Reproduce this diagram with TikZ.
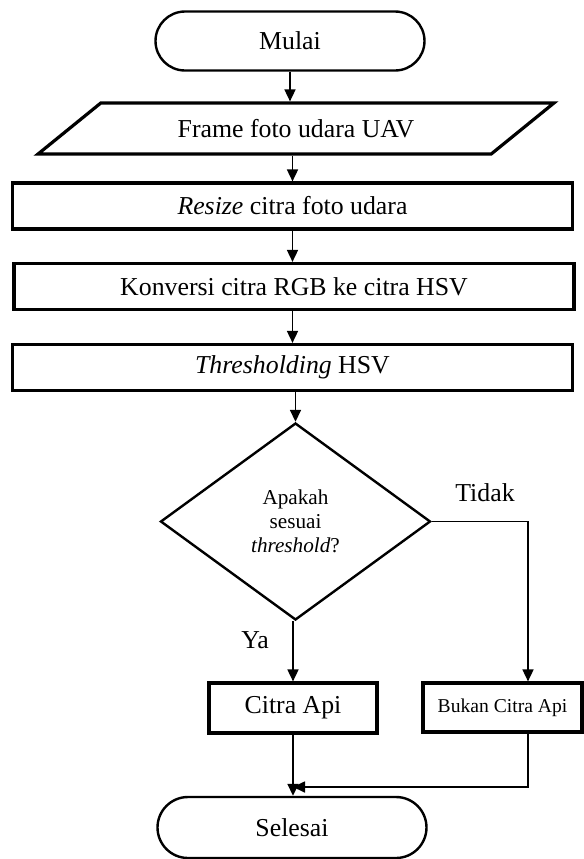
\documentclass[tikz,border=0pt]{standalone}
\usepackage{fontspec}
\setmainfont{Liberation Serif}
\usetikzlibrary{arrows.meta,shapes.geometric,shapes.misc}

\begin{document}
\begin{tikzpicture}[x=0.5pt, y=-0.5pt, font=\fontsize{12.9}{15}\selectfont,
  terminal/.style={rounded rectangle, draw, line width=1.2pt, minimum width=134.5pt, minimum height=29.5pt, inner sep=0pt},
  iobox/.style={trapezium, trapezium left angle=26, trapezium right angle=154, trapezium stretches=true, draw, line width=1.6pt, minimum width=258pt, minimum height=25.5pt, inner sep=0pt},
  procbox/.style={rectangle, draw, line width=1.6pt, minimum width=280pt, minimum height=23pt, inner sep=0pt},
  decision/.style={diamond, draw, line width=1.2pt, minimum width=135pt, minimum height=98.5pt, inner sep=0pt, align=center, font=\fontsize{10.6}{12}\selectfont},
  flow/.style={line width=0.85pt, -{Triangle[length=6pt,width=5.5pt]}},
  answer/.style={inner sep=1pt}]
  \useasboundingbox (0,0) rectangle (584,859);
  % main column
  \node[terminal] (mulai) at (290,41) {Mulai};
  \node[iobox] (frame) at (296,128.5) {Frame foto udara UAV};
  \node[procbox] (resize) at (292.5,206) {\textit{Resize} citra foto udara};
  \node[procbox] (konversi) at (294,286.5) {Konversi citra RGB ke citra HSV};
  \node[procbox] (thresh) at (292.5,367.5) {\textit{Thresholding} HSV};
  \node[decision] (cek) at (295.5,521.5) {Apakah\\sesuai\\\textit{threshold}?};
  % the two outcomes
  \node[procbox, minimum width=84pt, minimum height=25pt] (api) at (293,708) {Citra Api};
  \node[procbox, minimum width=79.5pt, minimum height=24.5pt, font=\fontsize{9.8}{12}\selectfont] (bukan) at (502.5,707.5) {Bukan Citra Api};
  \node[terminal, minimum height=30.5pt] (selesai) at (292,827.5) {Selesai};
  \node[answer] (ya) at (255,640) {Ya};
  \node[answer] (tidak) at (485,493) {Tidak};
  \coordinate (gabung) at (293,787);
  % connectors
  \draw[flow] (mulai.south) -- (mulai.south |- frame.north);
  \draw[flow] (resize.north |- frame.south) -- (resize.north);
  \draw[flow] (resize.south) -- (resize.south |- konversi.north);
  \draw[flow] (konversi.south -| thresh.north) -- (thresh.north);
  \draw[flow] (cek.north |- thresh.south) -- (cek.north);
  \draw[flow] (cek.south -| api.north) -- (api.north);
  \draw[flow] (cek.east) -| ([xshift=12.75pt]bukan.north);
  \draw[flow] (api.south) -- (api.south |- selesai.north);
  \draw[flow] ([xshift=12.75pt]bukan.south) |- (gabung);
\end{tikzpicture}
\end{document}
